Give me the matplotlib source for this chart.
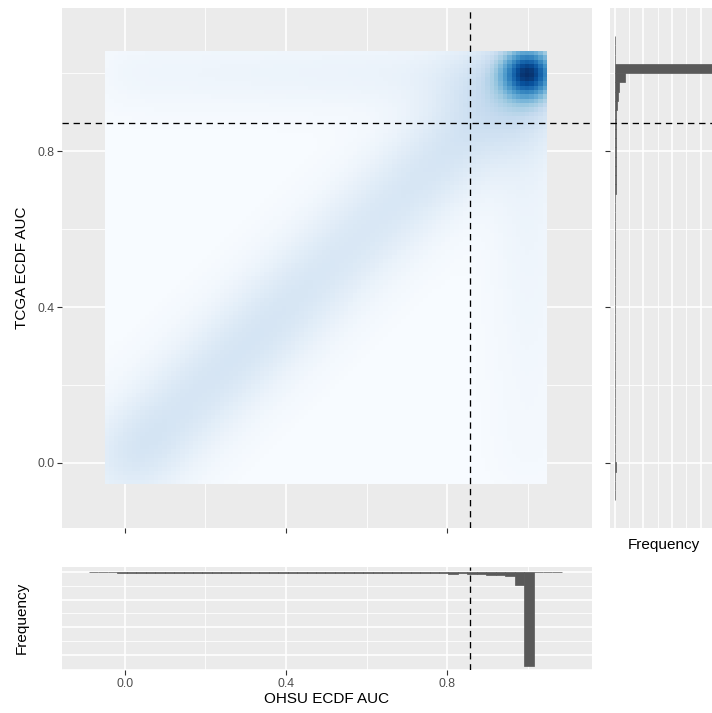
import numpy as np
import matplotlib
matplotlib.use("Agg")
import matplotlib.pyplot as plt
from matplotlib.ticker import FixedLocator, NullFormatter

plt.rcParams['font.family'] = ['Liberation Sans', 'DejaVu Sans']

# ---------------- data ----------------
ohsu_cut = 0.857
tcga_cut = 0.873

# 2-D density: weighted kernels
peak_x = [1.0, 0.975]
peak_y = [1.0, 0.975]
peak_w = [1.0, 0.75]
peak_s = [0.045, 0.10]

diag_t = [0.00, 0.05, 0.10, 0.15, 0.20, 0.25, 0.30, 0.35, 0.40, 0.45,
          0.50, 0.55, 0.60, 0.65, 0.70, 0.75, 0.80, 0.85, 0.90, 0.95]
diag_w = [0.38, 0.26, 0.24, 0.24, 0.24, 0.25, 0.25, 0.25, 0.24, 0.23,
          0.22, 0.22, 0.22, 0.22, 0.23, 0.24, 0.25, 0.26, 0.24, 0.16]
diag_s = 0.085

top_x = [0.0, 0.1, 0.2, 0.3, 0.4, 0.5, 0.6, 0.7, 0.8, 0.9]
top_w = [0.07, 0.07, 0.075, 0.08, 0.085, 0.09, 0.095, 0.10, 0.11, 0.12]
right_y = [0.0, 0.1, 0.2, 0.3, 0.4, 0.5, 0.6, 0.7, 0.8, 0.9]
right_w = [0.03, 0.035, 0.04, 0.05, 0.06, 0.07, 0.08, 0.09, 0.10, 0.12]
band_s = 0.065

# marginal histograms
ohsu_bin_start = -0.0895
ohsu_bin_width = 0.0235
ohsu_counts = [0, 0, 0, 35, 30, 30, 30, 30, 30, 30,
               30, 30, 30, 30, 30, 30, 30, 30, 30, 30,
               30, 30, 30, 30, 30, 30, 30, 30, 30, 30,
               30, 30, 35, 35, 35, 40, 45, 60, 70, 55,
               85, 90, 100, 130, 160, 480, 3400, 0, 0, 0]

tcga_bin_start = -0.094
tcga_bin_width = 0.0238
tcga_counts = [0, 0, 0, 25, 20, 20, 20, 20, 20, 20,
               20, 20, 20, 20, 20, 20, 20, 20, 20, 20,
               20, 20, 20, 20, 20, 20, 20, 20, 20, 20,
               20, 20, 20, 25, 45, 55, 30, 35, 40, 40,
               45, 50, 60, 95, 140, 350, 3400, 0, 0, 0]

count_max = 3400
xlim_main = (-0.1565, 1.1602)
ylim_main = (-0.167, 1.168)
ticks = [0.0, 0.4, 0.8]
tick_labels = ["0.0", "0.4", "0.8"]
minor_ticks = [0.2, 0.6, 1.0]

# ---------------- figure ----------------
W, H = 712, 713
fig = plt.figure(figsize=(W / 100, H / 100), dpi=100)

def rect(x0, y0, x1, y1):
    return [x0 / W, 1 - y1 / H, (x1 - x0) / W, (y1 - y0) / H]

bg = '#EBEBEB'
grey_fill = '#595959'
major_lw = 1.2
minor_lw = 0.6

ax = fig.add_axes(rect(62, 8, 592, 528))
axr = fig.add_axes(rect(610, 8, 717, 528))
axb = fig.add_axes(rect(62, 567, 592, 670))

for a in (ax, axr, axb):
    a.set_facecolor(bg)
    for s in a.spines.values():
        s.set_visible(False)
    a.set_axisbelow(True)
    a.tick_params(which='major', color='#333333', length=3.8, width=0.8,
                  labelcolor='#4D4D4D', labelsize=8.8, pad=1.8)
    a.tick_params(which='minor', length=0)

# density grid (100 x 100 evaluation points)
n = 100
gx = np.linspace(-0.0445, 1.0405, n)
gy = np.linspace(-0.0485, 1.0510, n)
X, Y = np.meshgrid(gx, gy)
Z = np.zeros_like(X)

def kern(cx, cy, w, s):
    return w / (2 * np.pi * s * s) * np.exp(-((X - cx) ** 2 + (Y - cy) ** 2) / (2 * s * s))

for cx, cy, w, s in zip(peak_x, peak_y, peak_w, peak_s):
    Z += kern(cx, cy, w, s)
for t, w in zip(diag_t, diag_w):
    Z += kern(t, t, w, diag_s)
for xx, w in zip(top_x, top_w):
    Z += kern(xx, 1.0, w, band_s)
for yy, w in zip(right_y, right_w):
    Z += kern(1.0, yy, w, band_s)
Z = Z / Z.max()

hx = (gx[1] - gx[0]) / 2
hy = (gy[1] - gy[0]) / 2
ax.imshow(Z, origin='lower', cmap='Blues', vmin=0, vmax=1,
          extent=[gx[0] - hx, gx[-1] + hx, gy[0] - hy, gy[-1] + hy],
          interpolation='nearest', aspect='auto', zorder=2)
ax.axvline(ohsu_cut, color='black', lw=0.95, linestyle=(0, (4.8, 3.6)), zorder=3)
ax.axhline(tcga_cut, color='black', lw=0.95, linestyle=(0, (4.8, 3.6)), zorder=3)
ax.set_xlim(*xlim_main)
ax.set_ylim(*ylim_main)
ax.xaxis.set_major_locator(FixedLocator(ticks))
ax.xaxis.set_minor_locator(FixedLocator(minor_ticks))
ax.yaxis.set_major_locator(FixedLocator(ticks))
ax.yaxis.set_minor_locator(FixedLocator(minor_ticks))
ax.set_xticklabels([])
ax.set_yticklabels(tick_labels)
ax.grid(which='major', color='white', lw=major_lw)
ax.grid(which='minor', color='white', lw=minor_lw)

# right histogram (TCGA)
t_edges_lo = [tcga_bin_start + i * tcga_bin_width for i in range(len(tcga_counts))]
axr.barh(t_edges_lo, tcga_counts, height=tcga_bin_width, align='edge',
         color=grey_fill, edgecolor=grey_fill, linewidth=0.5, zorder=2)
axr.axhline(tcga_cut, color='black', lw=0.95, linestyle=(0, (4.8, 3.6)), zorder=3)
axr.set_ylim(*ylim_main)
axr.set_xlim(-0.05 * count_max, 1.05 * count_max)
axr.yaxis.set_major_locator(FixedLocator(ticks))
axr.yaxis.set_minor_locator(FixedLocator(minor_ticks))
axr.set_yticklabels([])
axr.xaxis.set_major_locator(FixedLocator([0, 1000, 2000, 3000]))
axr.xaxis.set_minor_locator(FixedLocator([500, 1500, 2500, 3500]))
axr.xaxis.set_major_formatter(NullFormatter())
axr.tick_params(axis='x', which='major', length=0)
axr.grid(which='major', color='white', lw=major_lw)
axr.grid(which='minor', color='white', lw=minor_lw)

# bottom histogram (OHSU), hanging down
o_edges_lo = [ohsu_bin_start + i * ohsu_bin_width for i in range(len(ohsu_counts))]
axb.bar(o_edges_lo, ohsu_counts, width=ohsu_bin_width, align='edge',
        color=grey_fill, edgecolor=grey_fill, linewidth=0.5, zorder=2)
axb.axvline(ohsu_cut, color='black', lw=0.95, linestyle=(0, (4.8, 3.6)), zorder=3)
axb.set_xlim(*xlim_main)
axb.set_ylim(1.04 * count_max, -0.05 * count_max)
axb.xaxis.set_major_locator(FixedLocator(ticks))
axb.xaxis.set_minor_locator(FixedLocator(minor_ticks))
axb.set_xticklabels(tick_labels)
axb.yaxis.set_major_locator(FixedLocator([0, 1000, 2000, 3000]))
axb.yaxis.set_minor_locator(FixedLocator([500, 1500, 2500, 3500]))
axb.yaxis.set_major_formatter(NullFormatter())
axb.tick_params(axis='y', which='major', length=0)
axb.grid(which='major', color='white', lw=major_lw)
axb.grid(which='minor', color='white', lw=minor_lw)

# axis titles
fig.text(22 / W, 1 - 268 / H, 'TCGA ECDF AUC', rotation=90, ha='center', va='center', fontsize=11)
fig.text(327 / W, 1 - 699 / H, 'OHSU ECDF AUC', ha='center', va='center', fontsize=11)
fig.text(664 / W, 1 - 545 / H, 'Frequency', ha='center', va='center', fontsize=11)
fig.text(22 / W, 1 - 618 / H, 'Frequency', rotation=90, ha='center', va='center', fontsize=11)

fig.savefig('out.png', dpi=100, facecolor='white')
